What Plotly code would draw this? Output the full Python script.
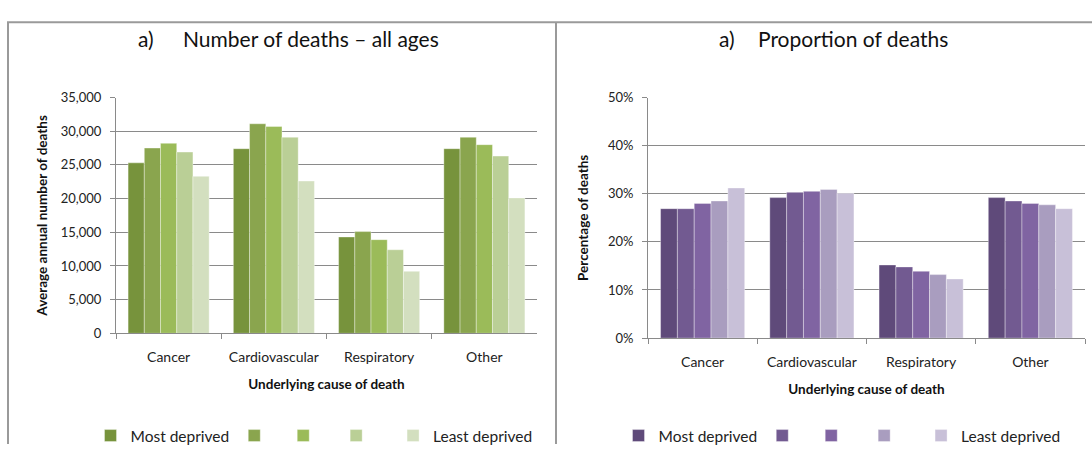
import plotly.graph_objects as go

W, H = 1092, 453

categories = ["Cancer", "Cardiovascular", "Respiratory", "Other"]
series_names = ["Most deprived", " ", "  ", "   ", "Least deprived"]

# Number of deaths (left panel), one list per deprivation group
deaths_q1 = [25300, 27400, 14300, 27400]
deaths_q2 = [27500, 31100, 15100, 29100]
deaths_q3 = [28200, 30700, 13900, 28000]
deaths_q4 = [26900, 29100, 12400, 26300]
deaths_q5 = [23300, 22600, 9200, 20100]

# Proportion of deaths (right panel), percent
pct_q1 = [26.9, 29.2, 15.2, 29.2]
pct_q2 = [26.9, 30.3, 14.8, 28.5]
pct_q3 = [28.0, 30.5, 13.9, 28.0]
pct_q4 = [28.5, 30.9, 13.2, 27.7]
pct_q5 = [31.2, 30.1, 12.3, 26.9]

left_tickvals = [0, 5000, 10000, 15000, 20000, 25000, 30000, 35000]
left_ticktext = ["0", "5,000", "10,000", "15,000", "20,000", "25,000", "30,000", "35,000"]
right_tickvals = [0, 10, 20, 30, 40, 50]
right_ticktext = ["0%", "10%", "20%", "30%", "40%", "50%"]

greens = ["#77933C", "#8AA54E", "#9BBB59", "#BACF96", "#D3DFBF"]
purples = ["#5F4A7A", "#725A91", "#8064A2", "#A99DBF", "#C8C0D8"]

FONT = "Lato"
GRID = "#8a8a8a"
TXT = "#222222"


def px_x(p):
    return p / W


def px_y(p):
    return 1 - p / H


fig = go.Figure()

left_data = [deaths_q1, deaths_q2, deaths_q3, deaths_q4, deaths_q5]
right_data = [pct_q1, pct_q2, pct_q3, pct_q4, pct_q5]

for i, vals in enumerate(left_data):
    fig.add_trace(go.Bar(
        x=categories, y=vals, name=series_names[i],
        marker=dict(color=greens[i], line=dict(color="rgba(255,255,255,0.45)", width=0.8)),
        xaxis="x", yaxis="y", legend="legend",
    ))
for i, vals in enumerate(right_data):
    fig.add_trace(go.Bar(
        x=categories, y=vals, name=series_names[i],
        marker=dict(color=purples[i], line=dict(color="rgba(255,255,255,0.45)", width=0.8)),
        xaxis="x2", yaxis="y2", legend="legend2",
    ))

axis_common = dict(
    showline=True, linecolor=GRID, linewidth=1,
    ticks="outside", ticklen=5, tickcolor=GRID,
)
xfont = dict(family=FONT, size=14, color=TXT)
yfont = dict(family=FONT, size=13, color=TXT)
title_font = dict(family=FONT, size=13.5, color="#111111")

fig.update_layout(
    width=W, height=H,
    margin=dict(l=0, r=0, t=0, b=0),
    paper_bgcolor="white", plot_bgcolor="white",
    barmode="group", bargap=0.23, bargroupgap=0,
    font=dict(family=FONT, color=TXT),
    xaxis=dict(domain=[px_x(116), px_x(537)], anchor="y",
               tickson="boundaries", ticklabelstandoff=11, tickfont=xfont,
               title=dict(text="<b>Underlying cause of death</b>", font=title_font, standoff=15),
               **axis_common),
    yaxis=dict(domain=[px_y(338), px_y(93)], anchor="x", range=[0, 35000],
               tickvals=left_tickvals, ticktext=left_ticktext, ticklabelstandoff=6, tickfont=yfont,
               showgrid=True, gridcolor=GRID, gridwidth=1, zeroline=False,
               title=dict(text="<b>Average annual number of deaths</b>", font=title_font, standoff=10),
               **axis_common),
    xaxis2=dict(domain=[px_x(648), px_x(1085)], anchor="y2",
                tickson="boundaries", ticklabelstandoff=11, tickfont=xfont,
                title=dict(text="<b>Underlying cause of death</b>", font=title_font, standoff=15),
                **axis_common),
    yaxis2=dict(domain=[px_y(343), px_y(93)], anchor="x2", range=[0, 50],
                tickvals=right_tickvals, ticktext=right_ticktext, ticklabelstandoff=6, tickfont=yfont,
                showgrid=True, gridcolor=GRID, gridwidth=1, zeroline=False,
                title=dict(text="<b>Percentage of deaths</b>", font=title_font, standoff=16),
                **axis_common),
    legend=dict(orientation="h", x=px_x(314), xanchor="center", y=px_y(445), yanchor="middle",
                font=dict(family=FONT, size=15.5, color=TXT), traceorder="normal", itemwidth=30,
                tracegroupgap=0),
    legend2=dict(orientation="h", x=px_x(842), xanchor="center", y=px_y(445), yanchor="middle",
                 font=dict(family=FONT, size=15.5, color=TXT), traceorder="normal", itemwidth=30,
                 tracegroupgap=0),
    shapes=[
        dict(type="line", xref="paper", yref="paper", x0=px_x(7), x1=1, y0=px_y(14.7), y1=px_y(14.7),
             line=dict(color="#9a9a9a", width=2)),
        dict(type="line", xref="paper", yref="paper", x0=px_x(8), x1=px_x(8), y0=px_y(14.7), y1=0,
             line=dict(color="#9a9a9a", width=2)),
        dict(type="line", xref="paper", yref="paper", x0=px_x(556), x1=px_x(556), y0=px_y(14.7), y1=0,
             line=dict(color="#9a9a9a", width=2)),
    ],
    annotations=[
        dict(text="a)", xref="paper", yref="paper", x=px_x(136), y=px_y(32), xanchor="left", yanchor="middle",
             showarrow=False, font=dict(family=FONT, size=21, color="#111111")),
        dict(text="Number of deaths – all ages", xref="paper", yref="paper", x=px_x(181), y=px_y(32),
             xanchor="left", yanchor="middle", showarrow=False, font=dict(family=FONT, size=21, color="#111111")),
        dict(text="a)", xref="paper", yref="paper", x=px_x(717), y=px_y(32), xanchor="left", yanchor="middle",
             showarrow=False, font=dict(family=FONT, size=21, color="#111111")),
        dict(text="Proportion of deaths", xref="paper", yref="paper", x=px_x(756), y=px_y(32),
             xanchor="left", yanchor="middle", showarrow=False, font=dict(family=FONT, size=21, color="#111111")),
    ],
)

# pin the figure to the window's top-left corner (no default page margin)
pin_js = (
    "document.documentElement.style.margin='0';"
    "document.body.style.margin='0';document.body.style.padding='0';"
    "document.body.style.overflow='hidden';"
    "var gd=document.getElementById('{plot_id}');"
    "gd.style.position='fixed';gd.style.left='0px';gd.style.top='0px';"
)
fig.write_html("out.html", config={"displayModeBar": False}, post_script=pin_js)
